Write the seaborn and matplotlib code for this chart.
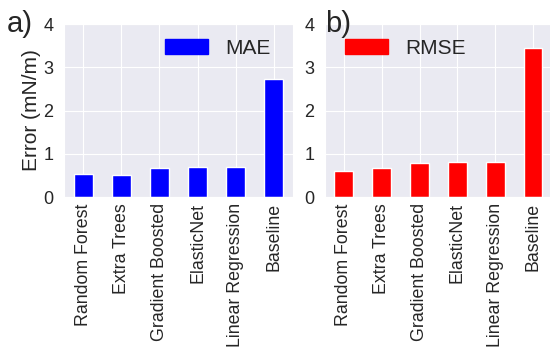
import matplotlib
matplotlib.use('Agg')
import matplotlib.pyplot as plt
from matplotlib.patches import Patch
import seaborn as sns
import pandas as pd

# model names and errors (mN/m)
models = ['Random Forest', 'Extra Trees', 'Gradient Boosted', 'ElasticNet',
          'Linear Regression', 'Baseline']
mae = [0.53, 0.52, 0.66, 0.70, 0.70, 2.72]
rmse = [0.60, 0.66, 0.78, 0.82, 0.82, 3.45]

sns.set_style('darkgrid')
plt.rcParams['font.family'] = ['Liberation Sans', 'DejaVu Sans']

df = pd.DataFrame({'model': models, 'MAE': mae, 'RMSE': rmse})

fig = plt.figure(figsize=(5.5, 3.51), dpi=100)
ax1 = fig.add_axes([0.1164, 0.4387, 0.4164, 0.4929])
ax2 = fig.add_axes([0.5909, 0.4387, 0.4125, 0.4929])

for ax, col, colour, loc, anchor in [(ax1, 'MAE', 'blue', 'upper right', (0.965, 1.0)),
                                     (ax2, 'RMSE', 'red', 'upper left', (0.022, 1.0))]:
    sns.barplot(data=df, x='model', y=col, color=colour, width=0.5,
                saturation=1, ax=ax)
    ax.set_ylim(0, 4)
    ax.set_yticks([0, 1, 2, 3, 4])
    ax.set_xlabel('')
    ax.set_ylabel('')
    ax.xaxis.grid(True)
    ax.tick_params(axis='x', labelrotation=90, labelsize=12.8, pad=1)
    ax.tick_params(axis='y', labelsize=13, pad=4)
    ax.legend(handles=[Patch(color=colour, label=col)], loc=loc,
              bbox_to_anchor=anchor, fontsize=15, frameon=False,
              handlelength=2.1, borderaxespad=0.3)

ax1.set_ylabel('Error (mN/m)', fontsize=15, labelpad=2)

fig.text(0.013, 1 - 31.5 / 351, 'a)', fontsize=21, va='baseline')
fig.text(0.591, 1 - 31.5 / 351, 'b)', fontsize=21, va='baseline')

fig.savefig('out.png', dpi=100)
